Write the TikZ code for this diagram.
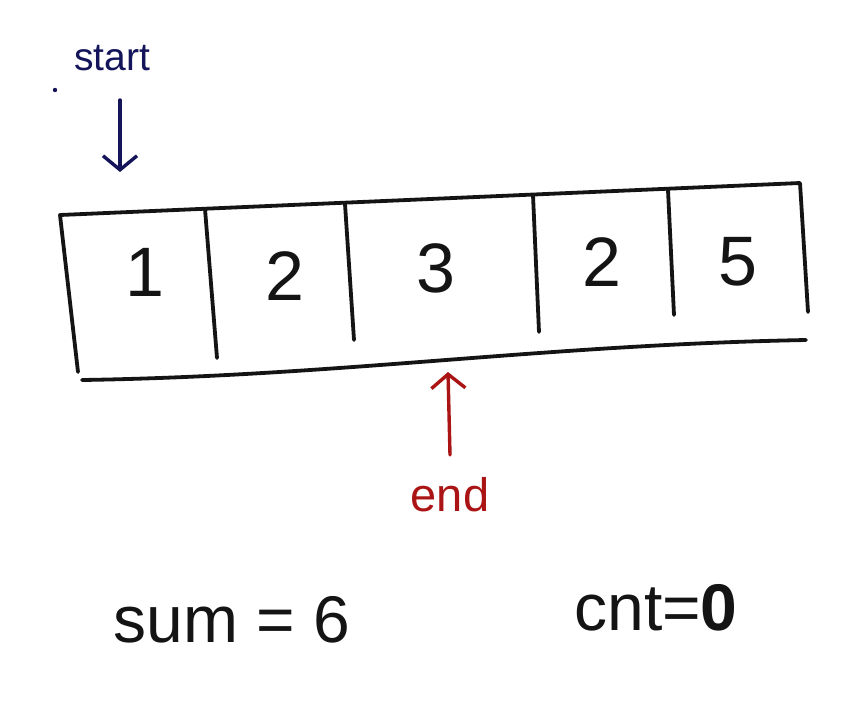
\documentclass[tikz,border=0pt]{standalone}
\usepackage{fontspec}
\setmainfont{Liberation Sans}
\usetikzlibrary{arrows.meta}
\definecolor{pen}{RGB}{20,20,20}
\definecolor{navy}{RGB}{20,20,90}
\definecolor{redpen}{RGB}{170,20,20}
\tikzset{
  line/.style={draw=pen,line width=3.8pt,line cap=round,line join=round},
  digit/.style={text=pen,font=\fontsize{70}{74}\selectfont},
  eq/.style={text=pen,font=\fontsize{66}{70}\selectfont,anchor=base},
}
\begin{document}
\begin{tikzpicture}[x=1pt,y=-1pt]
\useasboundingbox[fill=white] (0,0) rectangle (862,716);
% box corners
\coordinate (tl) at (60,215);
\coordinate (tr) at (800,183);
\coordinate (br) at (808,312);
\coordinate (bl) at (78,372);
\coordinate (b1) at (82,380);
\coordinate (b2) at (340,376);
\coordinate (b3) at (540,345);
\coordinate (b4) at (806,340);
% dividers
\coordinate (d1t) at (205,209); \coordinate (d1b) at (217,358);
\coordinate (d2t) at (345,204); \coordinate (d2b) at (354,340);
\coordinate (d3t) at (533,195); \coordinate (d3b) at (539,332);
\coordinate (d4t) at (668,190); \coordinate (d4b) at (674,315);
\draw[line] (bl) -- (tl) -- (tr) -- (br);
\draw[line] (b1) .. controls (b2) and (b3) .. (b4);
\draw[line] (d1t) -- (d1b);
\draw[line] (d2t) -- (d2b);
\draw[line] (d3t) -- (d3b);
\draw[line] (d4t) -- (d4b);
% digits
\node[digit] (c1) at (145,272) {1};
\node[digit] (c2) at (285,276) {2};
\node[digit] (c3) at (436,268) {3};
\node[digit] (c4) at (602,262) {2};
\node[digit] (c5) at (738,262) {5};
% start
\node[text=navy,font=\fontsize{39}{41}\selectfont] (start) at (112,58) {start};
\fill[navy] (55,90) circle (2.2);
\coordinate (sa) at (120,100);
\coordinate (sb) at (120,172);
\draw[draw=navy,line width=3.4pt,line cap=round,-{Straight Barb[length=14pt,width=34pt,line width=3.4pt]}] (sa) -- (sb);
% end
\node[text=redpen,font=\fontsize{47}{49}\selectfont] (endl) at (450,495) {end};
\coordinate (ea) at (450,455);
\coordinate (eb) at (448,372);
\draw[draw=redpen,line width=3.4pt,line cap=round,-{Straight Barb[length=14pt,width=34pt,line width=3.4pt]}] (ea) -- (eb);
% equations
\node[eq] (sum) at (232,642) {sum = 6};
\node[eq] (cnt) at (656,630) {cnt=\textbf{0}};
\end{tikzpicture}
\end{document}
